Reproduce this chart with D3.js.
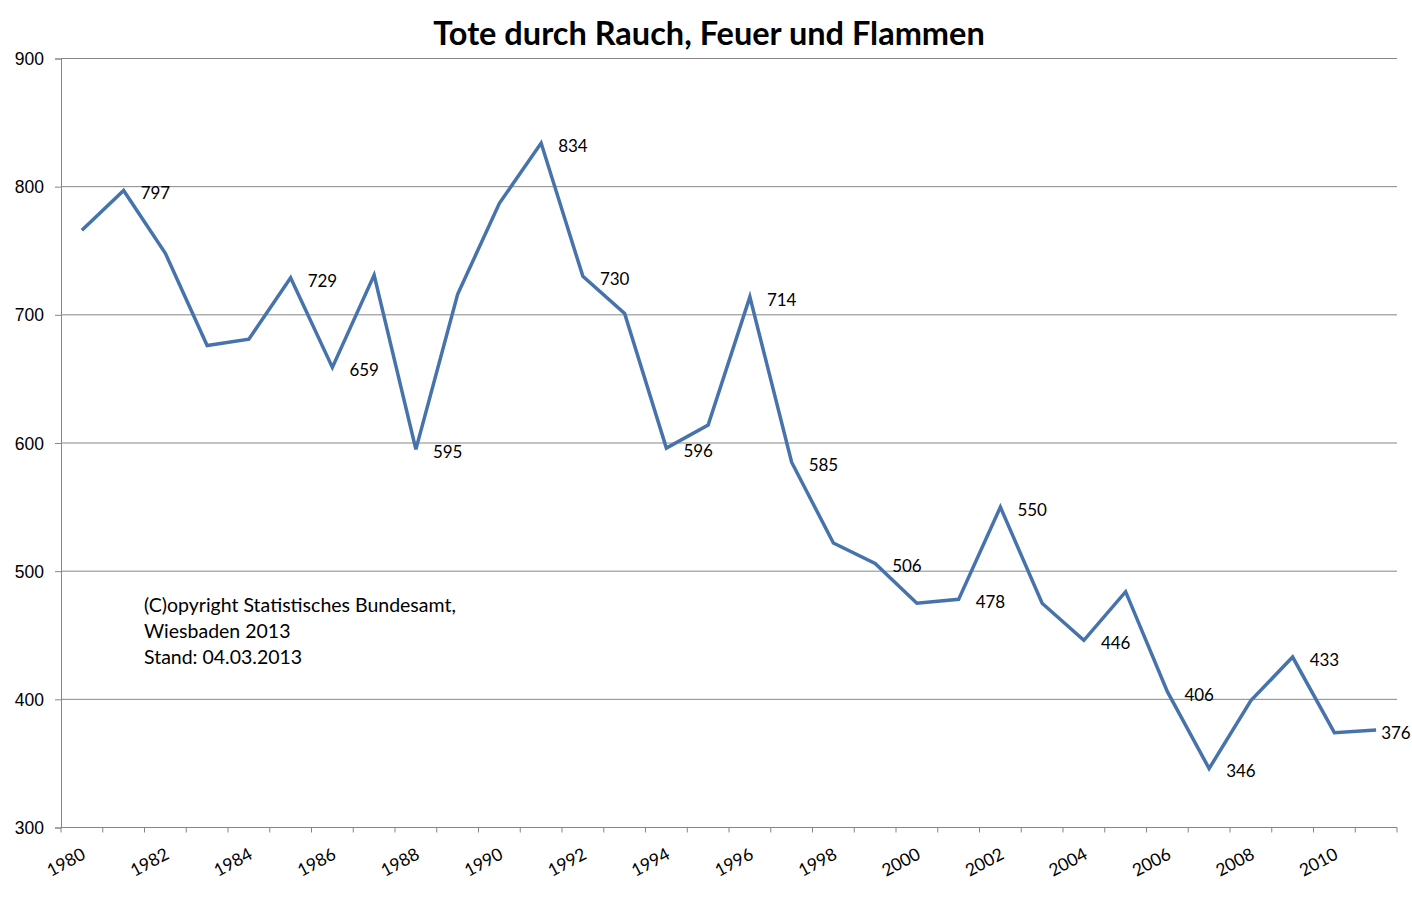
<!DOCTYPE html>
<html>
<head>
<meta charset="utf-8">
<script src="https://cdn.jsdelivr.net/npm/d3@7"></script>
<style>
  body { margin: 0; background: #fff; }
  svg { font-family: Lato, "Open Sans", sans-serif; }
  .axis path, .axis line { stroke: #868686; }
  .axis text { fill: #000; font-size: 17.5px; }
  .grid line { stroke: #868686; }
</style>
</head>
<body>
<svg width="1412" height="909"></svg>
<script>
let years = d3.range(1980, 2012)
let deaths = [766, 797, 748, 676, 681, 729, 659, 731, 595, 716,
              787, 834, 730, 701, 596, 614, 714, 585, 522, 506,
              475, 478, 550, 475, 446, 484, 406, 346, 399, 433,
              374, 376]
let labeledYears = [1981, 1985, 1986, 1988, 1991, 1992, 1994, 1996, 1997,
                    1999, 2001, 2002, 2004, 2006, 2007, 2009, 2011]
let yTicks = [300, 400, 500, 600, 700, 800, 900]
let xTickYears = years.filter(y => y % 2 == 0)
let title = "Tote durch Rauch, Feuer und Flammen"
let note = ["(C)opyright Statistisches Bundesamt,", "Wiesbaden 2013", "Stand: 04.03.2013"]

let data = years.map((y, i) => ({year: y, value: deaths[i]}))

let svg = d3.select("svg")
let margin = {top: 58.5, right: 15, bottom: 81.5, left: 61}
let width = 1397 - margin.left
let height = 827.5 - margin.top

let x = d3.scaleBand().domain(years).range([0, width]).padding(0)
let y = d3.scaleLinear().domain([300, 900]).range([height, 0])

let g = svg.append("g")
    .attr("transform", "translate(" + margin.left + "," + margin.top + ")")

// title
svg.append("text")
    .attr("x", 709)
    .attr("y", 45)
    .attr("text-anchor", "middle")
    .style("font-size", "32.5px")
    .style("font-weight", "bold")
    .text(title)

// horizontal grid
g.append("g")
    .attr("class", "grid")
  .selectAll("line")
  .data(yTicks.filter(t => t > 300))
  .enter().append("line")
    .attr("x1", 0)
    .attr("x2", width)
    .attr("y1", d => y(d))
    .attr("y2", d => y(d))

// y axis
g.append("g")
    .attr("class", "axis axis--y")
    .call(d3.axisLeft(y).tickValues(yTicks).tickSize(6).tickPadding(11))
    .call(a => a.selectAll("text").attr("dy", "0.35em"))

// x axis: ticks on category boundaries, labels rotated
let xAxis = g.append("g")
    .attr("class", "axis axis--x")
    .attr("transform", "translate(0," + height + ")")

xAxis.append("line")
    .attr("x1", 0).attr("x2", width)

xAxis.selectAll(".tick")
  .data(years.concat([2012]))
  .enter().append("line")
    .attr("class", "tick")
    .attr("x1", d => d == 2012 ? width : x(d))
    .attr("x2", d => d == 2012 ? width : x(d))
    .attr("y1", 0)
    .attr("y2", 5)

xAxis.selectAll("text")
  .data(xTickYears)
  .enter().append("text")
    .attr("text-anchor", "end")
    .attr("dy", "0.35em")
    .attr("transform", d => "translate(" + (x(d) + x.bandwidth() / 2 + 2) + ",25) rotate(-28)")
    .text(d => d)

// line
let line = d3.line()
    .x(d => x(d.year) + x.bandwidth() / 2)
    .y(d => y(d.value))

g.append("path")
    .datum(data)
    .attr("fill", "none")
    .attr("stroke", "#4673ab")
    .attr("stroke-width", 3.5)
    .attr("stroke-linejoin", "miter")
    .attr("d", line)

// data labels
g.selectAll(".label")
  .data(data.filter(d => labeledYears.includes(d.year)))
  .enter().append("text")
    .attr("class", "label")
    .attr("x", d => x(d.year) + x.bandwidth() / 2 + (d.year == 2011 ? 5 : 17))
    .attr("y", d => y(d.value) + 3)
    .attr("dy", "0.35em")
    .style("font-size", "17px")
    .text(d => d.value)

// source note
svg.append("text")
    .attr("x", 144)
    .attr("y", 612)
    .style("font-size", "19.5px")
  .selectAll("tspan")
  .data(note)
  .enter().append("tspan")
    .attr("x", 144)
    .attr("dy", (d, i) => i == 0 ? 0 : 26)
    .text(d => d)
</script>
</body>
</html>
